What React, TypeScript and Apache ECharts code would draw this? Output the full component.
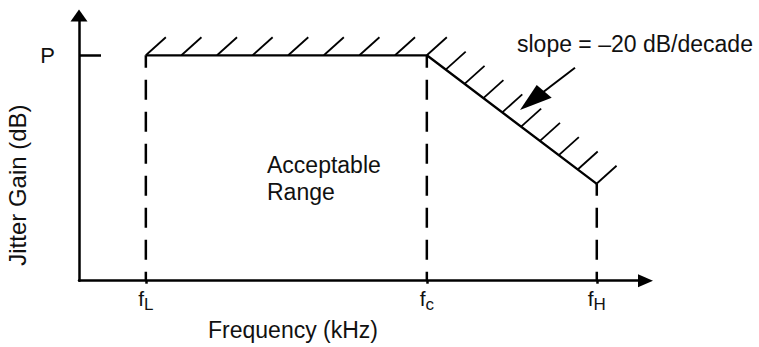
import React, { useEffect, useRef } from 'react';
import * as echarts from 'echarts';

// ---- data ----
const X_MIN = 0;
const X_MAX = 100;
const Y_MIN = 0;
const Y_MAX = 100;
const FREQ_VALUES = [11.8, 61.4, 91.4]; // fL, fc, fH
const FREQ_SUBSCRIPTS = ['L', 'c', 'H'];
const MASK_GAIN = [85, 85, 36.5]; // jitter gain at fL, fc, fH
const P_VALUE = 85;
const Y_TICK_LABELS = ['P'];
const X_AXIS_NAME = 'Frequency (kHz)';
const Y_AXIS_NAME = 'Jitter Gain (dB)';
const REGION_TEXT = ['Acceptable', 'Range'];
const SLOPE_TEXT = 'slope = \u201320 dB/decade';

// ---- style ----
const FONT = "'Liberation Sans', Arial, Helvetica, sans-serif";
const TEXT_COLOR = '#111';
const HATCH_STEP = [35.6, 23.65];
const HATCH_VEC = [20, -18];

export default function App() {
  const ref = useRef<HTMLDivElement>(null);

  useEffect(() => {
    if (!ref.current) return;
    const chart = echarts.init(ref.current, null, { renderer: 'svg' });

    const maskPoints = FREQ_VALUES.map((f, i) => [f, MASK_GAIN[i]]);
    const segments = maskPoints
      .slice(0, -1)
      .map((p, i) => [p[0], p[1], maskPoints[i + 1][0], maskPoints[i + 1][1]]);

    const nearestIndex = (v: number) => {
      let best = 0;
      FREQ_VALUES.forEach((f, i) => {
        if (Math.abs(f - v) < Math.abs(FREQ_VALUES[best] - v)) best = i;
      });
      return best;
    };

    chart.setOption({
      animation: false,
      textStyle: { fontFamily: FONT, color: TEXT_COLOR },
      grid: {
        left: 79,
        right: 113.5,
        top: 15.5,
        bottom: 66.3,
        containLabel: false,
        outerBoundsMode: 'none',
      },
      xAxis: {
        type: 'value',
        min: X_MIN,
        max: X_MAX,
        name: X_AXIS_NAME,
        nameLocation: 'middle',
        nameGap: 37,
        nameTextStyle: {
          fontSize: 23,
          fontFamily: FONT,
          color: TEXT_COLOR,
          padding: [0, 138.5, 0, 0],
        },
        axisLine: {
          onZero: false,
          symbol: ['none', 'triangle'],
          symbolSize: [13, 15],
          lineStyle: { color: '#000', width: 2.5 },
        },
        axisTick: {
          show: true,
          customValues: FREQ_VALUES,
          length: 3,
          lineStyle: { color: '#000', width: 2.5 },
        },
        axisLabel: {
          customValues: FREQ_VALUES,
          margin: 7,
          formatter: (v: number) => `{f|f}{s|${FREQ_SUBSCRIPTS[nearestIndex(v)]}}`,
          rich: {
            f: { fontSize: 21, lineHeight: 22, verticalAlign: 'top', fontFamily: FONT, color: TEXT_COLOR },
            s: { fontSize: 17, lineHeight: 34, verticalAlign: 'middle', fontFamily: FONT, color: TEXT_COLOR },
          },
        },
        splitLine: { show: false },
      },
      yAxis: {
        type: 'value',
        min: Y_MIN,
        max: Y_MAX,
        name: Y_AXIS_NAME,
        nameLocation: 'middle',
        nameGap: 39,
        nameTextStyle: {
          fontSize: 24,
          fontFamily: FONT,
          color: TEXT_COLOR,
          padding: [0, 74, 0, 0],
        },
        axisLine: {
          onZero: false,
          symbol: ['none', 'triangle'],
          symbolSize: [17, 12],
          lineStyle: { color: '#000', width: 2.5 },
        },
        axisTick: {
          show: true,
          inside: true,
          customValues: [P_VALUE],
          length: 22,
          lineStyle: { color: '#000', width: 2.5 },
        },
        axisLabel: {
          customValues: [P_VALUE],
          margin: 24,
          fontSize: 22,
          fontFamily: FONT,
          color: TEXT_COLOR,
          formatter: () => Y_TICK_LABELS[0],
        },
        splitLine: { show: false },
      },
      graphic: [
        {
          type: 'text',
          x: 517,
          y: 44,
          silent: true,
          style: {
            text: SLOPE_TEXT,
            fontSize: 23,
            fontFamily: FONT,
            fill: TEXT_COLOR,
            align: 'left',
            verticalAlign: 'middle',
          },
        },
        {
          type: 'text',
          x: 267,
          y: 178.7,
          silent: true,
          style: {
            text: REGION_TEXT.join('\n'),
            fontSize: 23,
            lineHeight: 27,
            fontFamily: FONT,
            fill: TEXT_COLOR,
            align: 'left',
            verticalAlign: 'middle',
          },
        },
        {
          type: 'line',
          silent: true,
          shape: { x1: 575, y1: 67.7, x2: 540, y2: 94.5 },
          style: { stroke: '#000', lineWidth: 2 },
        },
        {
          type: 'polygon',
          silent: true,
          shape: { points: [[520, 110], [536.7, 85], [551.7, 97.7]] },
          style: { fill: '#000' },
        },
      ],
      series: [
        {
          type: 'custom',
          name: 'drop lines',
          silent: true,
          data: maskPoints,
          renderItem: (params: any, api: any) => {
            const top = api.coord([api.value(0), api.value(1)]);
            const bottom = api.coord([api.value(0), Y_MIN]);
            return {
              type: 'line',
              shape: { x1: bottom[0], y1: bottom[1], x2: top[0], y2: top[1] },
              style: {
                stroke: '#000',
                lineWidth: 2.5,
                lineDash: [20, 12],
                lineDashOffset: 11,
                lineCap: 'butt',
              },
            };
          },
        },
        {
          type: 'custom',
          name: 'hatching',
          silent: true,
          data: segments,
          renderItem: (params: any, api: any) => {
            const p1 = api.coord([api.value(0), api.value(1)]);
            const p2 = api.coord([api.value(2), api.value(3)]);
            const dx = p2[0] - p1[0];
            const dy = p2[1] - p1[1];
            const len = Math.hypot(dx, dy);
            const step = HATCH_STEP[params.dataIndex];
            const children: any[] = [];
            for (let t = 0; t <= len + 1.5; t += step) {
              const x = p1[0] + (dx * t) / len;
              const y = p1[1] + (dy * t) / len;
              children.push({
                type: 'line',
                shape: { x1: x, y1: y, x2: x + HATCH_VEC[0], y2: y + HATCH_VEC[1] },
                style: { stroke: '#000', lineWidth: 1.8 },
              });
            }
            return { type: 'group', children };
          },
        },
        {
          type: 'line',
          name: 'jitter mask',
          silent: true,
          data: maskPoints,
          showSymbol: false,
          symbol: 'none',
          lineStyle: { color: '#000', width: 2.3 },
        },
      ],
    });

    return () => chart.dispose();
  }, []);

  return (
    <div
      ref={ref}
      style={{ position: 'fixed', left: 0, top: 0, width: 759, height: 347, background: '#fff' }}
    />
  );
}
